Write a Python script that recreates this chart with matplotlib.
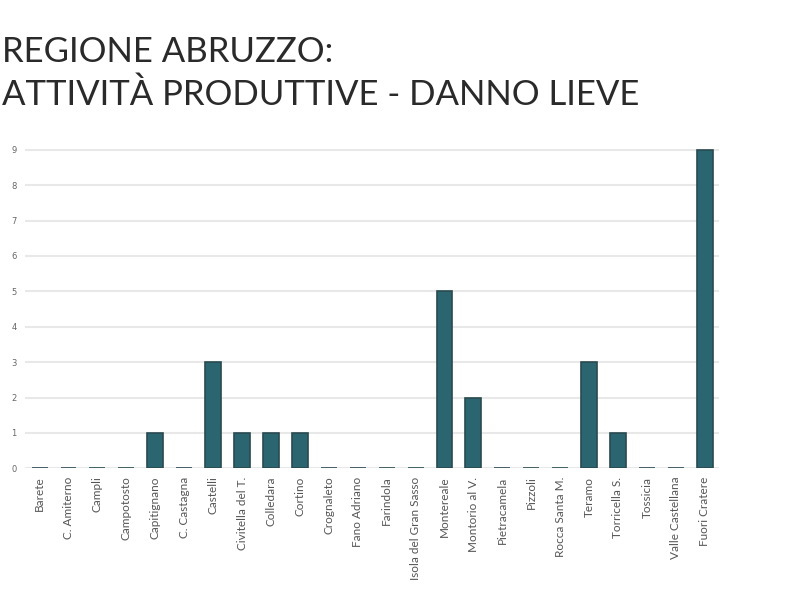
import numpy as np
import matplotlib.pyplot as plt

comuni = ['Barete', 'C. Amiterno', 'Campli', 'Campotosto', 'Capitignano',
          'C. Castagna', 'Castelli', 'Civitella del T.', 'Colledara', 'Cortino',
          'Crognaleto', 'Fano Adriano', 'Farindola', 'Isola del Gran Sasso',
          'Montereale', 'Montorio al V.', 'Pietracamela', 'Pizzoli',
          'Rocca Santa M.', 'Teramo', 'Torricella S.', 'Tossicia',
          'Valle Castellana', 'Fuori Cratere']
danno_lieve = [0, 0, 0, 0, 1, 0, 3, 1, 1, 1, 0, 0, 0, 0, 5, 2, 0, 0, 0, 3, 1, 0, 0, 9]
y_ticks = list(range(0, 10))

bar_color = '#2b6670'

fig = plt.figure(figsize=(7.86, 6.05), dpi=100)
ax = fig.add_axes([0.032, 0.226, 0.883, 0.579])

x = np.arange(len(comuni))
ax.bar(x, danno_lieve, width=0.55, color=bar_color, edgecolor='#2a4a50',
       linewidth=1.2, zorder=3)

ax.set_xlim(-0.5, len(comuni) - 0.5)
ax.set_ylim(0, 9.9)
ax.set_yticks(y_ticks)
ax.set_yticklabels([str(v) for v in y_ticks], fontsize=6, color='#666666')
ax.set_xticks(x)
ax.set_xticklabels(comuni, rotation=90, fontsize=8.5, color='#555555',
                   family='Lato')
ax.tick_params(axis='both', length=0, pad=6)
ax.grid(axis='y', color='#e8e8e8', linewidth=1.5, zorder=0)
for s in ax.spines.values():
    s.set_visible(False)

fig.text(0.002, 0.898, 'REGIONE ABRUZZO:', fontsize=25, color='#2a2a2a',
         family='Lato')
fig.text(0.002, 0.826, 'ATTIVITÀ PRODUTTIVE - DANNO LIEVE', fontsize=25,
         color='#2a2a2a', family='Lato')

fig.savefig('out.png', dpi=100)
